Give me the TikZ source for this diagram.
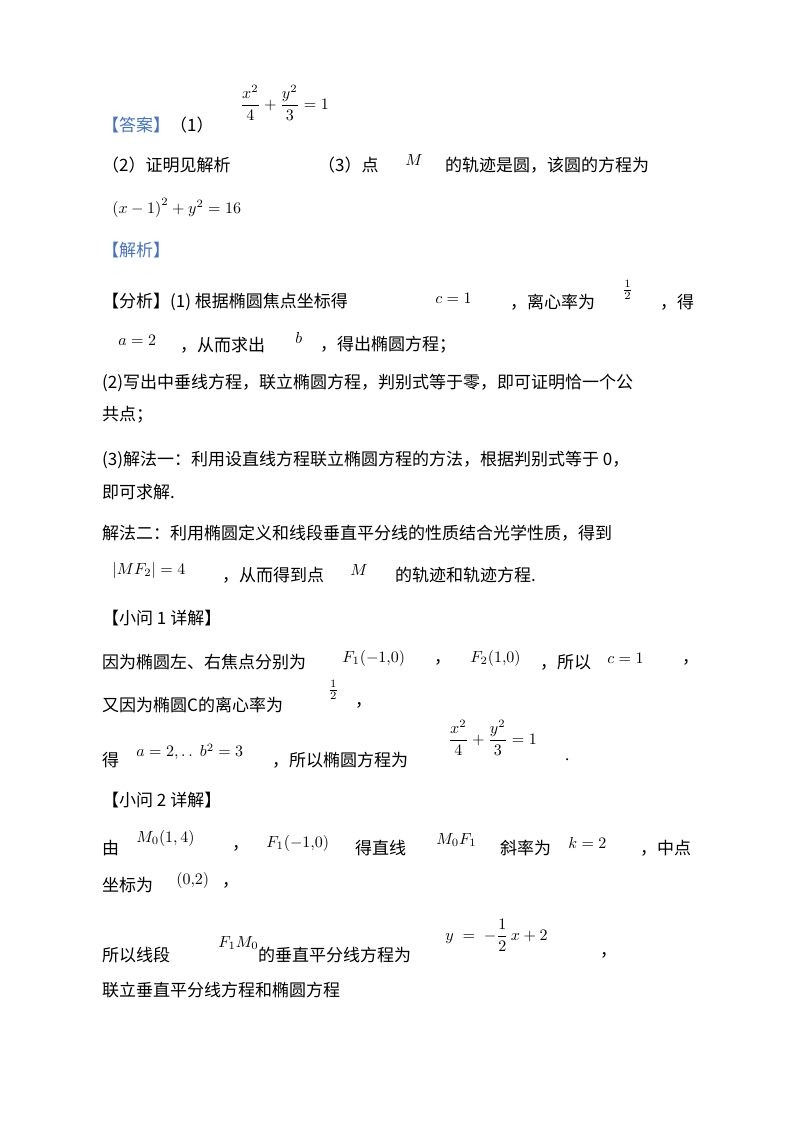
\documentclass[tikz,border=0pt]{standalone}
\usepackage{fontspec}
\setmainfont{Liberation Serif}
\newfontfamily\cjk{Noto Sans CJK SC}
\usepackage{amsmath}
\definecolor{blu}{RGB}{68,114,196}
\begin{document}
\begin{tikzpicture}[x=1pt,y=-1pt,
  t/.style={anchor=west,inner sep=0pt,font=\fontsize{17}{20}\selectfont},
  m/.style={anchor=west,inner sep=0pt,scale=1.6,transform shape}]
\useasboundingbox (0,0) rectangle (800,1134);
\fill[white] (0,0) rectangle (800,1134);
\node[t] (a1) at (102,125) {\cjk\color{blu}【答案】\color{black}（1）};
\node[m] (a2) at (240,103) {$\dfrac{x^2}{4}+\dfrac{y^2}{3}=1$};
\node[t] (b1) at (102,165) {\cjk（2）证明见解析};
\node[t] (b2) at (318,165) {\cjk（3）点};
\node[m] (b3) at (405,160) {$M$};
\node[t] (b4) at (445,165) {\cjk 的轨迹是圆，该圆的方程为};
\node[m] (c1) at (112,208) {$\left(x-1\right)^2+y^2=16$};
\node[t] (d1) at (102,250) {\cjk\color{blu}【解析】};
\node[t] (e1) at (102,302) {\cjk 【分析】(1) 根据椭圆焦点坐标得};
\node[m] (e2) at (435,298) {$c=1$};
\node[t] (e3) at (510,302) {\cjk ，离心率为};
\node[m] (e4) at (622,290) {$\frac{1}{2}$};
\node[t] (e5) at (660,302) {\cjk ，得};
\node[m] (f1) at (118,340) {$a=2$};
\node[t] (f2) at (180,345) {\cjk ，从而求出};
\node[m] (f3) at (295,338) {$b$};
\node[t] (f4) at (320,345) {\cjk ，得出椭圆方程；};
\node[t] (g1) at (102,383) {\cjk (2)写出中垂线方程，联立椭圆方程，判别式等于零，即可证明恰一个公};
\node[t] (g2) at (102,415) {\cjk 共点；};
\node[t] (h1) at (102,460) {\cjk (3)解法一：利用设直线方程联立椭圆方程的方法，根据判别式等于 0，};
\node[t] (h2) at (102,492) {\cjk 即可求解.};
\node[t] (i1) at (102,533) {\cjk 解法二：利用椭圆定义和线段垂直平分线的性质结合光学性质，得到};
\node[m] (j1) at (112,570) {$\left|MF_2\right|=4$};
\node[t] (j2) at (222,575) {\cjk ，从而得到点};
\node[m] (j3) at (350,570) {$M$};
\node[t] (j4) at (395,575) {\cjk 的轨迹和轨迹方程.};
\node[t] (k1) at (102,618) {\cjk 【小问 1 详解】};
\node[t] (l1) at (102,662) {\cjk 因为椭圆左、右焦点分别为};
\node[m] (l2) at (342,658) {$F_1(-1{,}0)$};
\node[t] (l3) at (434,662) {\cjk ，};
\node[m] (l4) at (470,658) {$F_2(1{,}0)$};
\node[t] (l5) at (540,662) {\cjk ，所以};
\node[m] (l6) at (607,658) {$c=1$};
\node[t] (l7) at (682,662) {\cjk ，};
\node[t] (m1) at (102,705) {\cjk 又因为椭圆\textit{C}的离心率为};
\node[m] (m2) at (328,690) {$\frac{1}{2}$};
\node[t] (m3) at (355,705) {\cjk ，};
\node[t] (n1) at (102,760) {\cjk 得};
\node[m] (n2) at (136,752) {$a=2,\mathrel{.\,.}\,b^2=3$};
\node[t] (n3) at (272,760) {\cjk ，所以椭圆方程为};
\node[m] (n4) at (448,738) {$\dfrac{x^2}{4}+\dfrac{y^2}{3}=1$};
\node[t] (n5) at (565,760) {.};
\node[t] (o1) at (102,800) {\cjk 【小问 2 详解】};
\node[t] (p1) at (102,848) {\cjk 由};
\node[m] (p2) at (136,838) {$M_0(1,4)$};
\node[t] (p3) at (232,848) {\cjk ，};
\node[m] (p4) at (266,843) {$F_1(-1{,}0)$};
\node[t] (p5) at (355,848) {\cjk 得直线};
\node[m] (p6) at (436,840) {$M_0F_1$};
\node[t] (p7) at (500,848) {\cjk 斜率为};
\node[m] (p8) at (568,843) {$k=2$};
\node[t] (p9) at (640,848) {\cjk ，中点};
\node[t] (q1) at (102,885) {\cjk 坐标为};
\node[m] (q2) at (176,880) {$(0{,}2)$};
\node[t] (q3) at (222,885) {\cjk ，};
\node[t] (r1) at (102,955) {\cjk 所以线段};
\node[m] (r2) at (218,943) {$F_1M_0$};
\node[t] (r3) at (258,955) {\cjk 的垂直平分线方程为};
\node[m] (r4) at (445,935) {$y\;=\;-\dfrac{1}{2}\,x+2$};
\node[t] (r5) at (600,955) {\cjk ，};
\node[t] (s1) at (102,990) {\cjk 联立垂直平分线方程和椭圆方程};
\end{tikzpicture}
\end{document}
